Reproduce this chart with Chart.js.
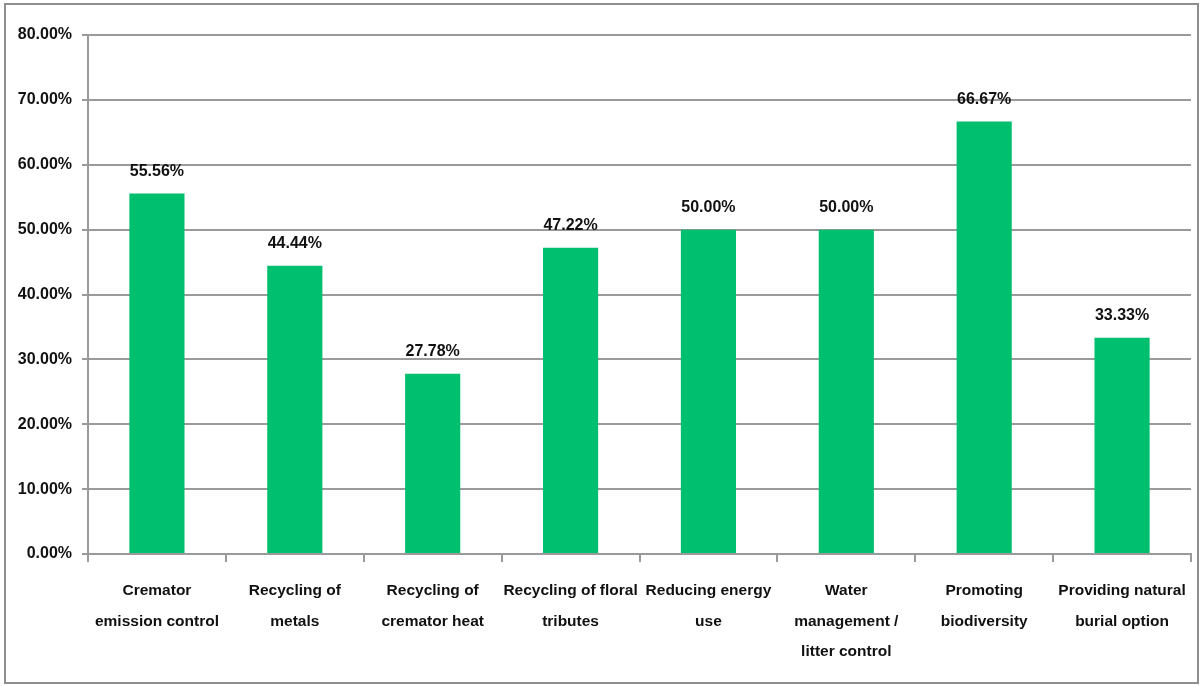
<!DOCTYPE html>
<html>
<head>
<meta charset="utf-8">
<script src="https://cdn.jsdelivr.net/npm/chart.js@4/dist/chart.umd.min.js"></script>
<style>
  html, body { margin: 0; padding: 0; background: #fff; }
  #wrap { width: 1203px; height: 686px; position: relative; }
</style>
</head>
<body>
<div id="wrap"><canvas id="chart" width="1203" height="686"></canvas></div>
<script>
const categories = [
  ['Cremator', 'emission control'],
  ['Recycling of', 'metals'],
  ['Recycling of', 'cremator heat'],
  ['Recycling of floral', 'tributes'],
  ['Reducing energy', 'use'],
  ['Water', 'management /', 'litter control'],
  ['Promoting', 'biodiversity'],
  ['Providing natural', 'burial option'],
];
const values = [55.56, 44.44, 27.78, 47.22, 50.00, 50.00, 66.67, 33.33];

const FONT = "'Liberation Sans', Arial, sans-serif";
const GRID = '#9a9a9a';

const frame = {
  id: 'frame',
  beforeDraw(chart) {
    const ctx = chart.ctx;
    ctx.save();
    ctx.strokeStyle = '#8f8f8f';
    ctx.lineWidth = 2;
    ctx.strokeRect(5, 4, chart.width - 10, chart.height - 7);
    ctx.restore();
  }
};

const barLabels = {
  id: 'barLabels',
  afterDatasetsDraw(chart) {
    const ctx = chart.ctx;
    const meta = chart.getDatasetMeta(0);
    ctx.save();
    ctx.font = 'bold 16px ' + FONT;
    ctx.fillStyle = '#111';
    ctx.textAlign = 'center';
    ctx.textBaseline = 'bottom';
    meta.data.forEach((bar, i) => {
      ctx.fillText(values[i].toFixed(2) + '%', bar.x, bar.y - 14);
    });
    ctx.restore();
  }
};

new Chart(document.getElementById('chart'), {
  type: 'bar',
  data: {
    labels: categories,
    datasets: [{
      data: values,
      backgroundColor: '#00bf6f',
      borderWidth: 0,
      categoryPercentage: 1,
      barPercentage: 0.4,
    }]
  },
  options: {
    responsive: false,
    animation: false,
    layout: { padding: { top: 35, right: 12, left: 0, bottom: 0 } },
    plugins: { legend: { display: false }, tooltip: { enabled: false } },
    scales: {
      y: {
        min: 0, max: 80,
        ticks: {
          stepSize: 10,
          padding: 10,
          color: '#111',
          font: { family: FONT, size: 16, weight: 'bold' },
          callback: v => v.toFixed(2) + '%',
        },
        grid: { color: GRID, lineWidth: 2, tickLength: 6 },
        border: { color: GRID, width: 2 },
        afterFit(scale) { scale.width = 88; },
      },
      x: {
        offset: true,
        ticks: {
          padding: 14,
          color: '#111',
          font: { family: FONT, size: 15.5, weight: 'bold', lineHeight: 1.95 },
          maxRotation: 0,
          autoSkip: false,
        },
        grid: { offset: true, drawOnChartArea: false, color: GRID, lineWidth: 2, tickLength: 8 },
        border: { color: GRID, width: 2 },
        afterFit(scale) { scale.height = 132; },
      }
    }
  },
  plugins: [frame, barLabels]
});
</script>
</body>
</html>
